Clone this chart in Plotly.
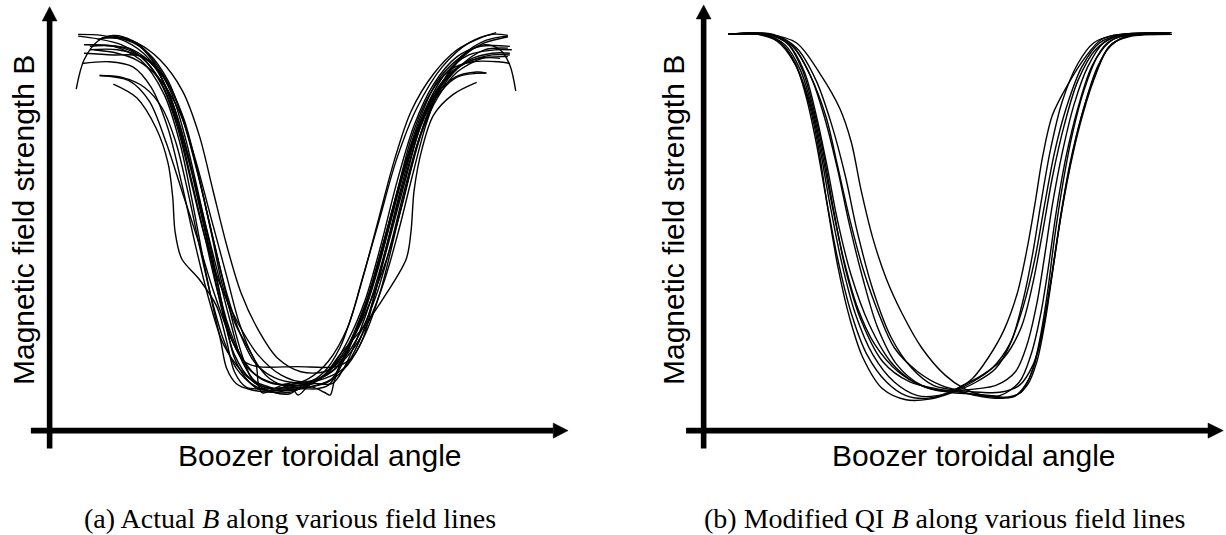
import plotly.graph_objects as go

# ---------------- Panel (a): actual B along field lines (arbitrary units) ----------------
a01_phi = [16.3, 22.3, 27.3, 30.3, 31.5, 32.1, 33.8, 38.3, 42.8, 45.3, 47.3, 50.3, 55.3, 61.3, 67.3, 73.3, 78.3, 82.3, 86.3, 90.3, 94.3, 98.3, 104.3, 111.8]
a01_B = [101.2, 97.2, 88.2, 78.2, 68.2, 58.2, 50.2, 44.2, 36.2, 26.2, 17.2, 12.7, 12.2, 12.7, 14.2, 18.2, 28.2, 38.2, 50.2, 66.2, 84.2, 96.2, 103.2, 104.4]

a02_phi = [12.8, 20.3, 25.5, 29.8, 33.8, 37.8, 41.8, 46.3, 50.8, 56.3, 63.3, 69.3, 74.3, 80.3, 86.3, 91.3, 92.5, 93.3, 95.3, 98.3, 103.3, 109.3]
a02_B = [103.7, 102.2, 96.2, 84.2, 70.2, 56.2, 41.2, 27.2, 18.2, 14.2, 13.2, 15.2, 22.2, 30.2, 40.2, 50.2, 58.2, 70.2, 82.2, 92.2, 98.2, 101.7]

a03_phi = [6.8, 8.8, 12.3, 16.3, 21.3, 26.8, 31.0, 35.0, 39.0, 43.0, 46.4, 49.3, 53.3, 57.3, 61.3, 66.3, 71.3, 76.3, 80.0, 84.3, 88.8, 94.0, 100.5, 107.3, 113.3, 117.3]
a03_B = [99.7, 108.2, 113.7, 115.4, 113.7, 107.2, 96.2, 81.2, 64.2, 46.2, 31.2, 20.2, 13.7, 12.2, 13.2, 15.2, 20.2, 30.2, 44.2, 61.2, 79.2, 94.2, 106.2, 113.2, 115.7, 115.4]

a04_phi = [7.3, 13.3, 19.3, 25.3, 30.3, 34.3, 37.8, 41.3, 44.3, 47.3, 51.3, 56.3, 61.3, 66.3, 71.3, 76.3, 80.8, 84.8, 88.8, 93.3, 98.3, 104.3, 110.3, 117.8]
a04_B = [115.7, 115.4, 113.7, 108.7, 99.2, 85.2, 68.2, 50.2, 34.2, 22.2, 15.2, 12.7, 11.7, 13.2, 17.2, 26.2, 38.2, 54.2, 72.2, 89.2, 101.2, 109.2, 112.2, 112.2]

a05_phi = [8.8, 17.3, 23.3, 28.3, 32.8, 36.3, 39.8, 43.3, 46.8, 49.8, 53.3, 63.3, 73.3, 77.3, 80.3, 83.3, 87.3, 91.3, 95.3, 100.3, 106.3, 113.3, 117.8]
a05_B = [112.7, 112.2, 109.2, 102.2, 89.2, 73.2, 56.2, 39.2, 26.2, 20.2, 18.7, 18.7, 18.7, 21.2, 27.2, 40.2, 57.2, 74.2, 90.2, 101.2, 107.2, 109.7, 109.7]

a06_phi = [8.8, 16.3, 23.3, 27.3, 31.3, 34.8, 38.3, 41.8, 44.8, 47.3, 50.3, 53.3, 57.3, 63.3, 67.3, 70.3, 71.8, 72.8, 74.3, 77.3, 80.8, 84.8, 88.8, 92.8, 97.3, 102.3, 108.3, 114.8, 117.8]
a06_B = [110.2, 109.7, 109.4, 106.2, 98.2, 85.2, 68.2, 50.2, 33.2, 21.2, 15.2, 12.2, 11.7, 12.2, 12.7, 11.2, 10.4, 14.2, 19.2, 26.2, 36.2, 52.2, 69.2, 86.2, 98.2, 105.2, 107.7, 107.7, 107.2]

a07_phi = [10.3, 17.3, 24.3, 29.8, 34.3, 37.8, 41.3, 44.3, 47.5, 50.3, 52.8, 53.5, 54.5, 57.3, 61.3, 63.6, 66.3, 70.3, 74.3, 78.3, 82.3, 86.3, 90.3, 94.8, 99.3, 105.3, 111.3, 117.3]
a07_B = [111.2, 111.2, 108.7, 102.2, 91.2, 76.2, 58.2, 42.2, 31.2, 25.2, 19.6, 13.2, 11.0, 12.2, 13.7, 10.4, 13.2, 16.2, 21.2, 29.2, 41.2, 57.2, 75.2, 91.2, 102.2, 109.2, 113.2, 115.0]

a08_phi = [12.3, 17.3, 22.3, 27.8, 33.2, 37.3, 40.8, 44.3, 47.2, 49.8, 52.3, 57.3, 61.3, 63.8, 67.3, 72.3, 75.3, 78.8, 82.8, 86.8, 90.8, 94.8, 99.8, 105.8, 111.3, 115.3, 117.8, 119.3]
a08_B = [114.2, 115.0, 113.2, 106.2, 94.2, 78.2, 61.2, 44.2, 30.2, 20.2, 14.2, 11.2, 10.7, 12.2, 13.7, 13.7, 18.2, 27.2, 40.2, 56.2, 73.2, 88.2, 100.2, 109.2, 112.7, 111.2, 106.7, 99.2]

a09_phi = [7.3, 12.3, 18.3, 23.8, 28.8, 32.8, 36.3, 39.8, 43.8, 48.3, 53.3, 59.3, 65.3, 71.3, 77.3, 81.8, 85.8, 89.3, 92.8, 96.3, 100.3, 105.8, 111.8, 117.3]
a09_B = [115.2, 114.4, 112.7, 108.7, 100.7, 88.2, 72.2, 56.2, 42.2, 31.2, 22.2, 16.2, 14.2, 16.7, 23.2, 32.2, 44.2, 58.2, 74.2, 89.2, 101.2, 109.7, 114.0, 115.2]

a10_phi = [8.3, 15.3, 21.3, 26.0, 30.3, 33.8, 37.3, 40.8, 44.5, 49.3, 53.8, 59.3, 65.3, 70.3, 75.3, 79.8, 83.8, 87.8, 91.8, 96.3, 101.3, 107.3, 114.3, 118.3]
a10_B = [107.2, 107.7, 106.2, 100.2, 88.2, 72.2, 54.2, 38.2, 25.2, 17.2, 13.2, 12.2, 13.2, 16.2, 22.2, 32.2, 46.2, 63.2, 80.2, 94.2, 104.2, 109.7, 111.2, 111.2]

a11_phi = [13.3, 19.3, 25.3, 30.3, 34.3, 38.3, 41.8, 45.3, 48.8, 52.3, 56.3, 61.3, 66.3, 70.3, 74.3, 77.5, 80.8, 84.3, 88.3, 92.5, 98.3, 104.3, 110.3, 114.3]
a11_B = [114.7, 114.2, 110.2, 102.2, 90.2, 73.2, 56.2, 40.2, 28.2, 20.2, 16.2, 14.2, 14.2, 17.2, 24.2, 34.2, 47.2, 62.2, 79.2, 93.2, 104.2, 111.2, 114.7, 116.2]

a12_phi = [10.3, 16.3, 23.3, 29.3, 33.3, 36.3, 39.3, 41.8, 43.8, 45.3, 47.8, 51.3, 57.3, 63.3, 68.3, 72.3, 74.8, 77.8, 81.8, 85.8, 90.3, 95.3, 101.3, 107.3, 113.3, 117.8]
a12_B = [112.2, 112.2, 108.2, 98.2, 84.2, 68.2, 50.2, 36.2, 26.2, 18.2, 13.7, 12.0, 11.2, 12.2, 13.2, 15.2, 20.2, 28.2, 40.2, 56.2, 74.2, 90.2, 102.2, 108.2, 110.2, 110.2]

a13_phi = [16.3, 22.3, 28.3, 34.0, 38.3, 41.8, 45.3, 49.0, 53.5, 58.3, 64.3, 70.3, 75.3, 79.8, 83.8, 87.3, 90.8, 94.8, 99.3, 104.8, 111.3, 117.3]
a13_B = [115.0, 113.2, 108.2, 99.2, 86.2, 70.2, 54.2, 40.2, 29.2, 21.2, 17.2, 17.2, 21.2, 29.2, 40.2, 54.2, 70.2, 86.2, 98.2, 106.2, 111.2, 111.7]

a14_phi = [8.8, 15.3, 21.3, 26.8, 31.3, 35.3, 38.8, 42.3, 45.3, 48.8, 52.8, 57.3, 63.3, 70.3, 75.3, 79.3, 82.8, 86.3, 89.8, 93.8, 98.3, 103.3, 109.8, 117.3]
a14_B = [112.7, 112.4, 111.2, 106.2, 96.2, 81.2, 64.2, 46.2, 32.2, 22.2, 16.2, 13.7, 13.7, 15.2, 18.2, 26.2, 38.2, 54.2, 70.2, 86.2, 98.2, 105.2, 108.7, 109.2]

a15_phi = [11.3, 17.3, 22.3, 27.8, 33.2, 37.3, 41.3, 45.3, 48.6, 52.2, 56.3, 61.3, 66.3, 71.3, 76.3, 80.8, 84.8, 88.3, 91.8, 95.3, 99.3, 104.3, 110.8, 115.3]
a15_B = [111.2, 110.2, 108.2, 103.2, 93.2, 79.2, 62.2, 45.2, 31.2, 21.2, 15.2, 12.7, 12.7, 14.2, 19.2, 28.2, 41.2, 57.2, 73.2, 87.2, 97.2, 104.7, 108.7, 108.7]

a16_phi = [12.8, 18.3, 24.3, 28.8, 32.3, 35.3, 38.3, 41.3, 44.3, 47.8, 52.3, 57.3, 61.3, 64.3, 68.3, 71.3, 74.3, 77.8, 81.8, 85.8, 89.8, 93.8, 98.3, 103.8, 109.3, 111.8]
a16_B = [103.7, 103.2, 100.2, 94.2, 84.2, 70.2, 54.2, 39.2, 27.2, 18.2, 13.2, 11.2, 11.2, 12.2, 12.2, 13.2, 18.2, 27.2, 40.2, 56.2, 73.2, 87.2, 97.2, 103.2, 104.7, 104.4]

# ---------------- Panel (b): modified QI B along field lines (arbitrary units) ----------------
b01_phi = [6.3, 13.8, 18.8, 23.3, 26.8, 29.3, 31.6, 34.3, 37.3, 40.8, 45.8, 51.8, 57.8, 63.8, 69.8, 74.8, 78.8, 81.8, 84.3, 86.3, 88.8, 91.8, 95.8, 99.8, 104.8, 111.8, 119.8]
b01_B = [115.7, 115.7, 113.7, 107.2, 96.2, 83.2, 66.2, 48.2, 33.2, 21.2, 12.2, 9.0, 9.2, 11.2, 14.2, 18.2, 26.2, 38.2, 52.2, 66.2, 82.2, 96.2, 107.2, 113.2, 115.4, 116.0, 116.2]

b02_phi = [6.3, 14.8, 19.8, 23.8, 27.3, 29.8, 32.3, 35.3, 38.8, 43.3, 48.8, 54.8, 59.8, 64.3, 68.8, 73.8, 78.3, 81.8, 84.8, 87.3, 89.8, 92.8, 96.8, 101.3, 106.8, 118.8]
b02_B = [115.7, 115.7, 113.2, 106.2, 95.2, 82.2, 66.2, 49.2, 34.2, 22.2, 14.2, 10.2, 10.2, 11.7, 14.2, 18.2, 25.2, 36.2, 50.2, 66.2, 81.2, 94.2, 106.2, 113.2, 115.6, 116.2]

b03_phi = [6.3, 15.8, 21.3, 25.3, 28.3, 30.8, 33.3, 36.3, 40.3, 45.8, 52.8, 59.8, 65.8, 70.8, 75.8, 80.8, 83.8, 86.3, 88.3, 90.3, 92.8, 95.8, 99.3, 103.3, 107.8, 118.8]
b03_B = [115.7, 115.7, 113.2, 105.2, 93.2, 80.2, 64.2, 47.2, 32.2, 20.2, 14.2, 12.2, 11.2, 10.2, 10.2, 14.2, 22.2, 34.2, 48.2, 64.2, 80.2, 94.2, 106.2, 113.2, 115.4, 116.0]

b04_phi = [6.3, 16.8, 22.8, 27.5, 31.0, 34.3, 37.3, 40.8, 44.5, 49.5, 55.8, 62.8, 68.8, 73.8, 78.8, 82.8, 85.3, 87.3, 89.3, 91.3, 93.8, 96.8, 100.3, 103.8, 108.8, 119.3]
b04_B = [115.7, 115.7, 112.2, 103.2, 91.2, 76.2, 60.2, 44.2, 30.2, 19.2, 13.2, 11.2, 10.7, 10.2, 9.7, 13.2, 20.2, 31.2, 46.2, 62.2, 78.2, 92.2, 104.2, 112.2, 115.2, 115.9]

b05_phi = [6.3, 16.8, 23.8, 29.8, 34.8, 37.8, 40.3, 43.3, 46.8, 50.8, 55.8, 61.8, 66.8, 71.8, 76.8, 81.3, 84.3, 86.3, 88.0, 89.8, 91.8, 94.3, 97.3, 100.8, 104.8, 109.8, 118.8]
b05_B = [115.7, 115.7, 113.2, 104.2, 94.2, 84.2, 70.2, 56.2, 44.2, 34.2, 24.2, 16.2, 12.2, 10.2, 9.7, 11.2, 18.2, 28.2, 40.2, 56.2, 71.2, 86.2, 99.2, 109.2, 114.2, 115.7, 116.2]

b06_phi = [6.3, 15.3, 20.8, 24.8, 27.8, 30.3, 32.8, 35.8, 39.3, 43.8, 49.8, 55.8, 60.8, 64.8, 68.8, 72.8, 76.8, 80.3, 82.8, 84.8, 86.8, 89.3, 93.3, 97.8, 101.8, 106.8, 117.8]
b06_B = [115.7, 115.7, 112.7, 105.2, 94.2, 81.2, 66.2, 50.2, 36.2, 25.2, 17.2, 13.2, 11.7, 12.2, 15.2, 21.2, 29.2, 40.2, 53.2, 66.2, 80.2, 92.2, 101.2, 109.2, 114.2, 115.7, 116.2]

b07_phi = [6.3, 16.3, 21.8, 25.8, 28.8, 31.6, 34.3, 37.8, 42.3, 47.8, 53.8, 59.8, 64.8, 69.8, 74.8, 79.8, 82.8, 85.3, 87.3, 89.3, 91.8, 94.8, 98.3, 102.3, 106.8, 117.8]
b07_B = [115.7, 115.7, 112.7, 104.7, 92.2, 77.2, 61.2, 45.2, 31.2, 20.2, 14.2, 11.7, 11.7, 12.2, 13.2, 17.2, 25.2, 37.2, 51.2, 66.2, 81.2, 95.2, 106.2, 113.2, 115.4, 116.0]

b08_phi = [6.3, 17.8, 23.8, 28.8, 32.8, 36.3, 39.3, 43.3, 48.0, 53.3, 58.8, 64.8, 69.8, 74.8, 79.8, 83.3, 85.8, 87.8, 89.8, 91.8, 94.3, 97.3, 100.8, 104.3, 108.8, 119.8]
b08_B = [115.7, 115.7, 111.7, 102.2, 89.2, 74.2, 58.2, 41.2, 27.2, 18.2, 13.2, 11.7, 10.2, 9.4, 10.2, 15.2, 24.2, 36.2, 50.2, 65.2, 80.2, 94.2, 106.2, 112.7, 115.0, 115.7]

b09_phi = [6.3, 14.3, 19.3, 23.3, 26.3, 28.8, 31.3, 34.3, 37.8, 41.8, 46.8, 51.8, 56.8, 61.8, 66.3, 71.3, 76.8, 81.3, 84.3, 86.8, 89.3, 92.3, 95.8, 100.3, 105.3, 110.8, 119.3]
b09_B = [115.7, 115.7, 113.7, 107.7, 97.2, 84.2, 68.2, 50.2, 34.2, 22.2, 14.2, 10.2, 9.4, 10.7, 13.2, 16.2, 21.2, 30.2, 43.2, 58.2, 74.2, 89.2, 102.2, 111.2, 115.0, 115.8, 116.2]

b10_phi = [6.3, 17.3, 22.8, 27.3, 31.3, 34.3, 37.3, 40.8, 44.8, 48.8, 54.8, 60.8, 65.8, 70.8, 75.8, 80.8, 84.3, 86.8, 88.8, 90.8, 93.3, 96.3, 99.8, 103.3, 107.8, 119.8]
b10_B = [115.7, 115.7, 112.2, 103.7, 91.7, 77.2, 62.2, 47.2, 34.2, 24.2, 17.2, 13.2, 11.7, 11.2, 11.2, 13.2, 19.2, 29.2, 43.2, 58.2, 74.2, 89.2, 102.2, 111.2, 115.0, 115.7]

panel_a = [
    (a01_phi, a01_B), (a02_phi, a02_B), (a03_phi, a03_B), (a04_phi, a04_B),
    (a05_phi, a05_B), (a06_phi, a06_B), (a07_phi, a07_B), (a08_phi, a08_B),
    (a09_phi, a09_B), (a10_phi, a10_B), (a11_phi, a11_B), (a12_phi, a12_B),
    (a13_phi, a13_B), (a14_phi, a14_B), (a15_phi, a15_B), (a16_phi, a16_B),
]
panel_b = [
    (b01_phi, b01_B), (b02_phi, b02_B), (b03_phi, b03_B), (b04_phi, b04_B),
    (b05_phi, b05_B), (b06_phi, b06_B), (b07_phi, b07_B), (b08_phi, b08_B),
    (b09_phi, b09_B), (b10_phi, b10_B),
]

x_label = "Boozer toroidal angle"
y_label = "Magnetic field strength B"
caption_a = "(a) Actual <i>B</i> along various field lines"
caption_b = "(b) Modified QI <i>B</i> along various field lines"

# ---------------- figure ----------------
fig = go.Figure()
line_style = dict(color="black", width=1.4, shape="spline", smoothing=0.9)
for phi, B in panel_a:
    fig.add_trace(go.Scatter(x=phi, y=B, mode="lines", line=line_style,
                             xaxis="x", yaxis="y", showlegend=False, hoverinfo="skip"))
for phi, B in panel_b:
    fig.add_trace(go.Scatter(x=phi, y=B, mode="lines", line=line_style,
                             xaxis="x2", yaxis="y2", showlegend=False, hoverinfo="skip"))

axis_off = dict(visible=False, showgrid=False, zeroline=False, fixedrange=True)
fig.update_layout(
    width=1226, height=535,
    margin=dict(l=0, r=0, t=0, b=0),
    paper_bgcolor="white", plot_bgcolor="white",
    xaxis=dict(domain=[0, 0.5], range=[-12.7, 144.2], **axis_off),
    xaxis2=dict(domain=[0.5, 1], range=[-23.2, 133.7], **axis_off),
    yaxis=dict(domain=[0, 1], range=[-30.48, 125.74], **axis_off),
    yaxis2=dict(domain=[0, 1], range=[-30.48, 125.74], anchor="x2", **axis_off),
    showlegend=False,
)

# axis arrows (decoration), in each panel's data units
def add_axes(xref, yref, x_start, x_base, x_tip, y_start, y_base, y_tip):
    lw = 5.6
    fig.add_shape(type="line", xref=xref, yref=yref, x0=x_start, x1=x_base, y0=0, y1=0,
                  line=dict(color="black", width=lw))
    fig.add_shape(type="line", xref=xref, yref=yref, x0=0, x1=0, y0=y_start, y1=y_base,
                  line=dict(color="black", width=lw))
    hx, hy = 1.9, 2.2  # arrowhead half-widths
    fig.add_shape(type="path", xref=xref, yref=yref,
                  path=f"M {x_base},{-hy} L {x_tip},0 L {x_base},{hy} Z",
                  fillcolor="black", line=dict(color="black", width=0.5))
    fig.add_shape(type="path", xref=xref, yref=yref,
                  path=f"M {-hx},{y_base} L 0,{y_tip} L {hx},{y_base} Z",
                  fillcolor="black", line=dict(color="black", width=0.5))

add_axes("x", "y", -4.8, 128.9, 132.7, -5.2, 119.6, 123.8)
add_axes("x2", "y2", -4.5, 129.1, 133.0, -5.2, 120.2, 124.3)

sans = dict(family="Liberation Sans, Arial, sans-serif", size=30, color="black")
serif = dict(family="Liberation Serif, Times New Roman, serif", size=28, color="black")

for xc in (23 / 1226, 673 / 1226):
    fig.add_annotation(text=y_label, xref="paper", yref="paper", x=xc, y=(535 - 220) / 535,
                       textangle=-90, showarrow=False, font=sans,
                       xanchor="center", yanchor="middle")
for xc in (319.5 / 1226, 974 / 1226):
    fig.add_annotation(text=x_label, xref="paper", yref="paper", x=xc, y=(535 - 455.6) / 535,
                       showarrow=False, font=sans, xanchor="center", yanchor="middle")
for xc, cap in ((290 / 1226, caption_a), (944 / 1226, caption_b)):
    fig.add_annotation(text=cap, xref="paper", yref="paper", x=xc, y=(535 - 518.5) / 535,
                       showarrow=False, font=serif, xanchor="center", yanchor="middle")

fig.write_html(
    "out.html",
    config={"displayModeBar": False, "staticPlot": True},
    post_script="document.body.style.margin='0px';document.body.style.overflow='hidden';",
)
